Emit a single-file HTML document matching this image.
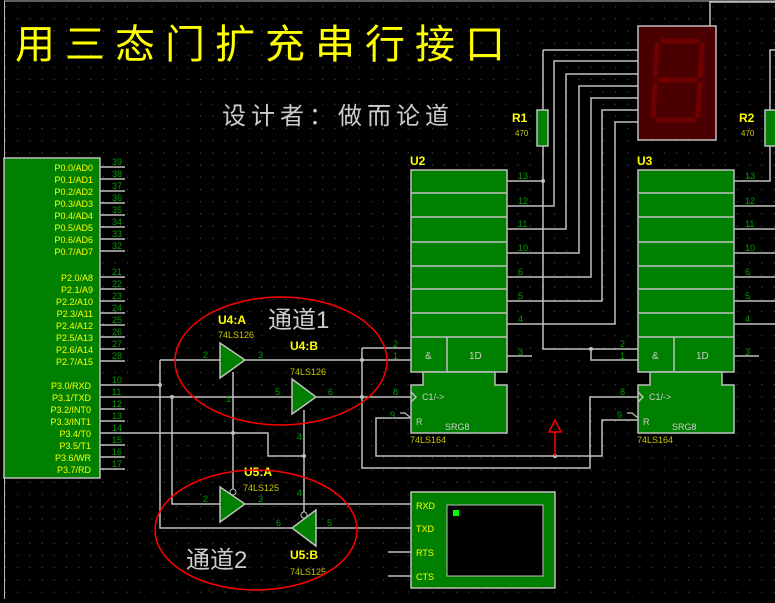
<!DOCTYPE html>
<html><head><meta charset="utf-8"><style>
html,body{margin:0;padding:0;background:#000;}
svg{display:block;}
text{font-family:"Liberation Sans","Noto Sans CJK SC",sans-serif;}
</style></head><body>
<svg width="775" height="603" viewBox="0 0 775 603" xmlns="http://www.w3.org/2000/svg">
<defs>
<pattern id="g" x="0" y="0" width="12.2" height="12.2" patternUnits="userSpaceOnUse">
<rect x="5" y="6" width="1" height="1" fill="#666"/>
</pattern>
</defs>
<rect width="775" height="603" fill="#000"/>
<rect x="4" y="2" width="771" height="597" fill="url(#g)"/>
<line x1="4" y1="1" x2="775" y2="1" stroke="#bbb" stroke-width="1"/>
<line x1="4.5" y1="1" x2="4.5" y2="599" stroke="#bbb" stroke-width="1"/>

<!-- Title -->
<text x="15" y="58" font-size="40" fill="#ffff00" letter-spacing="10" font-family="'Noto Sans CJK SC',sans-serif">用三态门扩充串行接口</text>
<text x="222" y="124" font-size="24" fill="#ccc" letter-spacing="5" font-family="'Noto Serif CJK SC',serif">设计者：做而论道</text>

<g stroke="#c0c0c0" stroke-width="1.5" fill="none">
<path d="M100 167H125M100 179H125M100 191H125M100 203H125M100 215H125M100 227H125M100 239H125M100 251H125"/>
<path d="M100 277H125M100 289H125M100 301H125M100 313H125M100 325H125M100 337H125M100 349H125M100 361H125"/>
<path d="M100 385H160M100 397H292M100 409H125M100 421H125M100 433H268V456H304M100 445H125M100 457H125M100 469H125"/>
<path d="M160 360V528H292M160 360H220M172 397V504H220"/>
<path d="M244 360H362M362 348V468H590V397H638M362 348H411M362 360H411M316 397H411"/>
<path d="M233 372V490M304 410V512"/>
<path d="M245 504H411M316 528H411M388 552H411M388 576H411"/>
<path d="M411 418H376V456H602V420H638"/>
<path d="M507 181H543M507 206H554V61H638M507 229H566V74H638M507 253H579V86H638M507 277H591V98H638M507 301H602V110H638M507 324H615V122H638M507 356H532"/>
<path d="M543 50H638M543 50V110M543 146V349H638M591 349V360H638"/>
<path d="M734 181H770V146M734 206H775M734 229H775M734 253H775M734 277H775M734 301H775M734 324H775M734 356H759"/>
<path d="M770 110V50H775M710 26V2H775"/>
</g>
<g fill="#c0c0c0">
<circle cx="160" cy="385" r="2"/><circle cx="172" cy="397" r="2"/><circle cx="362" cy="360" r="2"/><circle cx="362" cy="397" r="2"/>
<circle cx="233" cy="433" r="2"/><circle cx="304" cy="456" r="2"/><circle cx="543" cy="181" r="2"/><circle cx="591" cy="349" r="2"/><circle cx="555" cy="456" r="2"/>
</g>

<rect x="4" y="158" width="96" height="320" fill="#008000" stroke="#c0c0c0" stroke-width="1.5"/>
<g font-size="9" fill="#ffff00" text-anchor="end">
<text x="93" y="171">P0.0/AD0</text><text x="93" y="183">P0.1/AD1</text><text x="93" y="195">P0.2/AD2</text><text x="93" y="207">P0.3/AD3</text>
<text x="93" y="219">P0.4/AD4</text><text x="93" y="231">P0.5/AD5</text><text x="93" y="243">P0.6/AD6</text><text x="93" y="255">P0.7/AD7</text>
<text x="93" y="281">P2.0/A8</text><text x="93" y="293">P2.1/A9</text><text x="93" y="305">P2.2/A10</text><text x="93" y="317">P2.3/A11</text>
<text x="93" y="329">P2.4/A12</text><text x="93" y="341">P2.5/A13</text><text x="93" y="353">P2.6/A14</text><text x="93" y="365">P2.7/A15</text>
<text x="91" y="389">P3.0/RXD</text><text x="91" y="401">P3.1/TXD</text><text x="91" y="413">P3.2/INT0</text><text x="91" y="425">P3.3/INT1</text>
<text x="91" y="437">P3.4/T0</text><text x="91" y="449">P3.5/T1</text><text x="91" y="461">P3.6/WR</text><text x="91" y="473">P3.7/RD</text>
</g>
<g font-size="9" fill="#00a000">
<text x="112" y="165">39</text><text x="112" y="177">38</text><text x="112" y="189">37</text><text x="112" y="201">36</text><text x="112" y="213">35</text><text x="112" y="225">34</text><text x="112" y="237">33</text><text x="112" y="249">32</text>
<text x="112" y="275">21</text><text x="112" y="287">22</text><text x="112" y="299">23</text><text x="112" y="311">24</text><text x="112" y="323">25</text><text x="112" y="335">26</text><text x="112" y="347">27</text><text x="112" y="359">28</text>
<text x="112" y="383">10</text><text x="112" y="395">11</text><text x="112" y="407">12</text><text x="112" y="419">13</text><text x="112" y="431">14</text><text x="112" y="443">15</text><text x="112" y="455">16</text><text x="112" y="467">17</text>
</g>

<g id="sr">
<rect x="411" y="170" width="96" height="202" fill="#008000" stroke="#c0c0c0" stroke-width="1.5"/>
<path d="M411 193H507M411 217H507M411 242H507M411 266H507M411 289H507M411 313H507M411 337H507M447 337V372" stroke="#c0c0c0" stroke-width="1.5"/>
<path d="M423 372V385H411V433H507V385H495V372Z" fill="#008000" stroke="#c0c0c0" stroke-width="1.5"/>
<path d="M411 392L416 397L411 402" stroke="#c0c0c0" fill="none" stroke-width="1.5"/>
<path d="M400 413H405L411 418" stroke="#c0c0c0" fill="none" stroke-width="1.2"/>
<text x="425" y="359" font-size="10" fill="#ccc">&amp;</text><text x="469" y="359" font-size="10" fill="#ccc">1D</text>
<text x="422" y="400" font-size="9" fill="#ccc">C1/-&gt;</text><text x="416" y="425" font-size="9" fill="#ccc">R</text><text x="445" y="430" font-size="9" fill="#ccc">SRG8</text>
<text x="410" y="443" font-size="9" fill="#c8c800">74LS164</text>
</g>
<use href="#sr" transform="translate(227,0)"/>
<text x="410" y="165" font-size="12" font-weight="bold" fill="#ffff00">U2</text>
<text x="637" y="165" font-size="12" font-weight="bold" fill="#ffff00">U3</text>
<g font-size="9" fill="#00a000">
<text x="518" y="179">13</text><text x="518" y="204">12</text><text x="518" y="227">11</text><text x="518" y="251">10</text><text x="518" y="275">6</text><text x="518" y="299">5</text><text x="518" y="322">4</text><text x="518" y="355">3</text>
<text x="745" y="179">13</text><text x="745" y="204">12</text><text x="745" y="227">11</text><text x="745" y="251">10</text><text x="745" y="275">6</text><text x="745" y="299">5</text><text x="745" y="322">4</text><text x="745" y="355">3</text>
<text x="393" y="347">2</text><text x="393" y="359">1</text><text x="393" y="395">8</text><text x="390" y="418">9</text>
<text x="620" y="347">2</text><text x="620" y="359">1</text><text x="620" y="395">8</text><text x="617" y="418">9</text>
</g>

<rect x="638" y="26" width="78" height="114" fill="#4a0000" stroke="#c0c0c0" stroke-width="1.5"/>
<g stroke="#6e0000" stroke-width="5" stroke-linecap="round" fill="none">
<path d="M662 41H697M657 45L655 76M702 45L700 76M660 80H695M655 84L653 116M700 84L698 116M658 120H693"/>
</g>

<rect x="537" y="110" width="11" height="36" fill="#008000" stroke="#c0c0c0" stroke-width="1.5"/>
<rect x="765" y="110" width="11" height="36" fill="#008000" stroke="#c0c0c0" stroke-width="1.5"/>
<text x="512" y="122" font-size="12" font-weight="bold" fill="#ffff00">R1</text><text x="515" y="136" font-size="8" fill="#c8c800">470</text>
<text x="739" y="122" font-size="12" font-weight="bold" fill="#ffff00">R2</text><text x="741" y="136" font-size="8" fill="#c8c800">470</text>

<g fill="#008000" stroke="#c0c0c0" stroke-width="1.5">
<path d="M220 343L245 360L220 378Z"/>
<path d="M292 379L316 397L292 414Z"/>
<path d="M220 487L245 504L220 522Z"/>
<path d="M316 510L292 528L316 546Z"/>
</g>
<circle cx="233" cy="492" r="3" fill="#000" stroke="#c0c0c0"/>
<circle cx="304" cy="515" r="3" fill="#000" stroke="#c0c0c0"/>
<g font-size="9" fill="#00a000">
<text x="203" y="358">2</text><text x="258" y="358">3</text><text x="275" y="395">5</text><text x="328" y="395">6</text>
<text x="203" y="502">2</text><text x="258" y="502">3</text><text x="276" y="526">6</text><text x="327" y="526">5</text>
<text x="226" y="402">1</text><text x="297" y="440">4</text><text x="297" y="496">4</text>
</g>
<g font-weight="bold" font-size="12" fill="#ffff00">
<text x="218" y="324">U4:A</text><text x="290" y="350">U4:B</text><text x="244" y="476">U5:A</text><text x="290" y="559">U5:B</text>
</g>
<g font-size="9" fill="#c8c800">
<text x="218" y="338">74LS126</text><text x="290" y="375">74LS126</text><text x="243" y="491">74LS125</text><text x="290" y="575">74LS125</text>
</g>

<rect x="411" y="492" width="144" height="96" fill="#008000" stroke="#c0c0c0" stroke-width="1.5"/>
<rect x="447" y="505" width="96" height="71" fill="#000" stroke="#c0c0c0" stroke-width="1"/>
<rect x="453" y="510" width="6" height="6" fill="#00ff00"/>
<g font-size="9" fill="#ffff00"><text x="416" y="509">RXD</text><text x="416" y="532">TXD</text><text x="416" y="556">RTS</text><text x="416" y="580">CTS</text></g>

<path d="M555 456V432M549 432L555 420L561 432Z" stroke="#ff0000" stroke-width="1.5" fill="none"/>

<ellipse cx="281" cy="361" rx="106" ry="64" fill="none" stroke="#ff0000" stroke-width="1.5"/>
<ellipse cx="256" cy="530" rx="101" ry="60" fill="none" stroke="#ff0000" stroke-width="1.5"/>
<text x="268" y="328" font-size="24" fill="#ccc" font-family="'Noto Serif CJK SC',serif">通道1</text>
<text x="186" y="568" font-size="24" fill="#ccc" font-family="'Noto Serif CJK SC',serif">通道2</text>
</svg>
</body></html>
